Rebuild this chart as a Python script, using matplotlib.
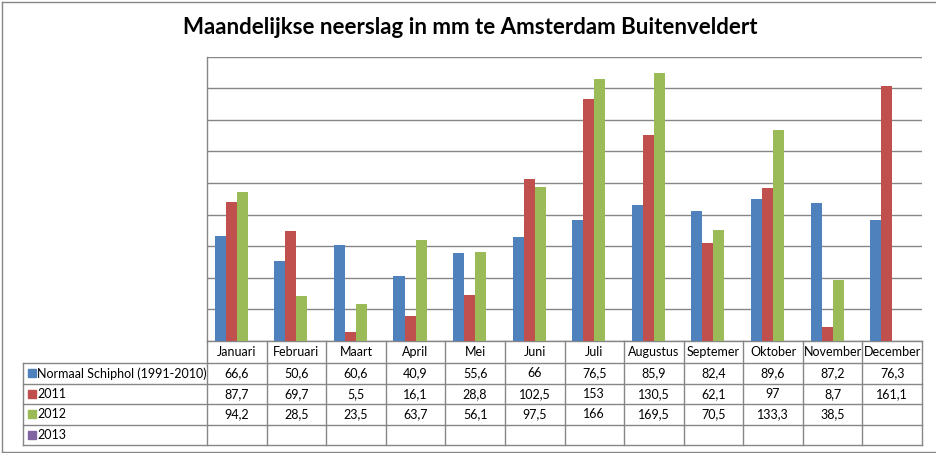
import matplotlib.pyplot as plt
import matplotlib.transforms as mtransforms
from matplotlib.lines import Line2D
from matplotlib.patches import Rectangle
import numpy as np

# data (mm neerslag per maand)
months = ["Januari", "Februari", "Maart", "April", "Mei", "Juni", "Juli",
          "Augustus", "Septemer", "Oktober", "November", "December"]
series_names = ["Normaal Schiphol (1991-2010)", "2011", "2012", "2013"]
normaal = [66.6, 50.6, 60.6, 40.9, 55.6, 66, 76.5, 85.9, 82.4, 89.6, 87.2, 76.3]
y2011 = [87.7, 69.7, 5.5, 16.1, 28.8, 102.5, 153, 130.5, 62.1, 97, 8.7, 161.1]
y2012 = [94.2, 28.5, 23.5, 63.7, 56.1, 97.5, 166, 169.5, 70.5, 133.3, 38.5, None]
y2013 = [None] * 12
colors = ["#4F81BD", "#C0504D", "#9BBB59", "#8064A2"]
grid_color = "#868686"

W, H = 936, 453
plt.rcParams['font.family'] = ['Lato', 'DejaVu Sans']
fig = plt.figure(figsize=(W / 100, H / 100), dpi=100)


def fx(px):
    return px / W


def fy(px):
    return (H - px) / H


# plot area in pixels
left, right, top, bottom = 207, 922, 56.5, 341
ax = fig.add_axes([fx(left), fy(bottom), fx(right - left), fy(top) - fy(bottom)])

all_series = [normaal, y2011, y2012, y2013]
x = np.arange(len(months))
bw = 0.185
for i, vals in enumerate(all_series):
    v = np.array([np.nan if a is None else a for a in vals], dtype=float)
    ax.bar(x + (i - 1.5) * bw, v, width=bw, color=colors[i], zorder=3)

ax.set_xlim(-0.5, len(months) - 0.5)
ax.set_ylim(0, 180)
ax.set_yticks(np.arange(0, 181, 20))
ax.yaxis.grid(True, color=grid_color, linewidth=1)
ax.set_axisbelow(True)
ax.tick_params(left=False, bottom=False, labelleft=False, labelbottom=False)
for s in ["top", "right"]:
    ax.spines[s].set_visible(False)
for s in ["left", "bottom"]:
    ax.spines[s].set_color(grid_color)
    ax.spines[s].set_linewidth(1)

# data table below the plot
tr = mtransforms.blended_transform_factory(ax.transData, fig.transFigure)
row_lines = [341, 363, 383.5, 404, 424.5, 445]
tab_left = 23
lw = 1

# vertical borders between month columns
for k in range(len(months) + 1):
    fig.add_artist(Line2D([k - 0.5, k - 0.5], [fy(row_lines[0]), fy(row_lines[-1])],
                          transform=tr, color=grid_color, lw=lw))
# horizontal borders
for r, yy in enumerate(row_lines[1:]):
    fig.add_artist(Line2D([fx(tab_left), fx(right)], [fy(yy), fy(yy)],
                          transform=fig.transFigure, color=grid_color, lw=lw))
fig.add_artist(Line2D([fx(tab_left), fx(tab_left)], [fy(row_lines[1]), fy(row_lines[-1])],
                      transform=fig.transFigure, color=grid_color, lw=lw))

fs = 9
for k, m in enumerate(months):
    fig.text(k, fy((row_lines[0] + row_lines[1]) / 2), m, transform=tr,
             ha="center", va="center", fontsize=fs)

for r, (name, vals) in enumerate(zip(series_names, all_series)):
    yc = fy((row_lines[r + 1] + row_lines[r + 2]) / 2)
    fig.add_artist(Rectangle((fx(28), yc - 4 / H), 8 / W, 8 / H,
                             transform=fig.transFigure, color=colors[r]))
    fig.text(fx(37), yc, name, ha="left", va="center", fontsize=fs)
    for k, v in enumerate(vals):
        if v is None:
            continue
        fig.text(k, yc, f"{v:g}".replace(".", ","), transform=tr,
                 ha="center", va="center", fontsize=fs)

# chart frame
for xs, ys in [([1.5, 1.5], [1.5, 452]), ([1.5, W], [1.5, 1.5]), ([1.5, W], [452, 452])]:
    fig.add_artist(Line2D([fx(a) for a in xs], [fy(b) for b in ys],
                          transform=fig.transFigure, color=grid_color, lw=1))

fig.text(fx(470), fy(27), "Maandelijkse neerslag in mm te Amsterdam Buitenveldert",
         ha="center", va="center", fontsize=16, fontweight="bold")

fig.savefig("out.png", dpi=100)
